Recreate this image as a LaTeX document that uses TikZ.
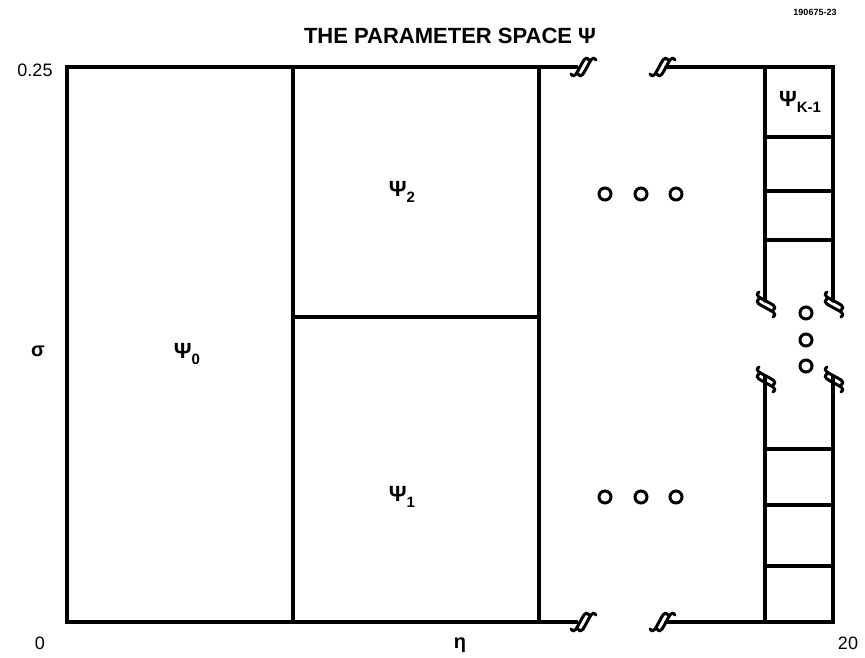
\documentclass[tikz,border=0pt]{standalone}
\usepackage{fontspec}
\setmainfont{Liberation Sans}
\newcommand{\psisub}[1]{\textbf{Ψ}\raisebox{-0.45ex}{\bfseries\fontsize{15}{18}\selectfont #1}}
\begin{document}
\begin{tikzpicture}[x=1pt,y=-1pt,
  frame/.style={line width=3.2pt, line cap=round},
  dot/.style={circle, draw, line width=3pt, minimum size=12pt, inner sep=0pt},
  lab/.style={font=\fontsize{18}{21}\selectfont, inner sep=0pt},
  psi/.style={font=\fontsize{22}{26}\selectfont, inner sep=0pt},
  brk/.style={line width=3pt, line cap=round}]
\useasboundingbox (0,0) rectangle (865,657);
% break mark pic
\tikzset{breakmark/.pic={
  \draw[brk] (-12,7) .. controls (-8,12) and (-6,5) .. (-3,0) .. controls (0,-5) and (2,-12) .. (6,-7);
  \draw[brk] (-5,7) .. controls (-1,12) and (1,5) .. (4,0) .. controls (7,-5) and (9,-12) .. (13,-7);
}}
% title
\node[font=\bfseries\fontsize{22}{26}\selectfont, inner sep=0pt] (title) at (450,36) {THE PARAMETER SPACE Ψ};
\node[font=\bfseries\fontsize{9}{11}\selectfont, inner sep=0pt] (code) at (815,12) {190675-23};
% frame
\coordinate (tl) at (67,67);
\coordinate (bl) at (67,622);
\coordinate (tbreakA) at (577,67);
\coordinate (tbreakB) at (666,67);
\coordinate (bbreakA) at (577,622);
\coordinate (bbreakB) at (666,622);
\coordinate (tr) at (833,67);
\coordinate (br) at (833,622);
\draw[frame] (tbreakA) -- (tl) -- (bl) -- (bbreakA);
\draw[frame] (tbreakB) -- (tr) -- (833,301);
\draw[frame] (bbreakB) -- (br) -- (833,376);
\draw[frame] (765,67) -- (765,301);
\draw[frame] (765,376) -- (765,622);
\draw[frame] (293,67) -- (293,622);
\draw[frame] (539,67) -- (539,622);
\draw[frame] (293,317) -- (539,317);
\foreach \y in {137,191,240,449,505,566} \draw[frame] (765,\y) -- (833,\y);
% break marks
\pic at (583,67) {breakmark};
\pic at (662,67) {breakmark};
\pic at (583,622) {breakmark};
\pic at (662,622) {breakmark};
\pic[rotate=-90] at (766,304) {breakmark};
\pic[rotate=-90] at (834,304) {breakmark};
\pic[rotate=-90] at (766,379) {breakmark};
\pic[rotate=-90] at (834,379) {breakmark};
% dots
\foreach \x/\n in {605/a,641/b,676/c} {
  \node[dot] (u\n) at (\x,194) {};
  \node[dot] (l\n) at (\x,497) {};
}
\node[dot] (va) at (806,313) {};
\node[dot] (vb) at (806,340) {};
\node[dot] (vc) at (806,366) {};
% labels
\node[lab] (y25) at (35,70) {0.25};
\node[lab] (y0) at (40,643) {0};
\node[lab, font=\bfseries\fontsize{20}{24}\selectfont] (sig) at (38,351) {σ};
\node[lab, font=\bfseries\fontsize{20}{24}\selectfont] (eta) at (460,645) {η};
\node[lab] (x20) at (848,643) {20};
\node[psi] (p0) at (187,354) {\psisub{0}};
\node[psi] (p2) at (402,192) {\psisub{2}};
\node[psi] (p1) at (402,497) {\psisub{1}};
\node[psi] (pk) at (800,102) {\psisub{K-1}};
\end{tikzpicture}
\end{document}
